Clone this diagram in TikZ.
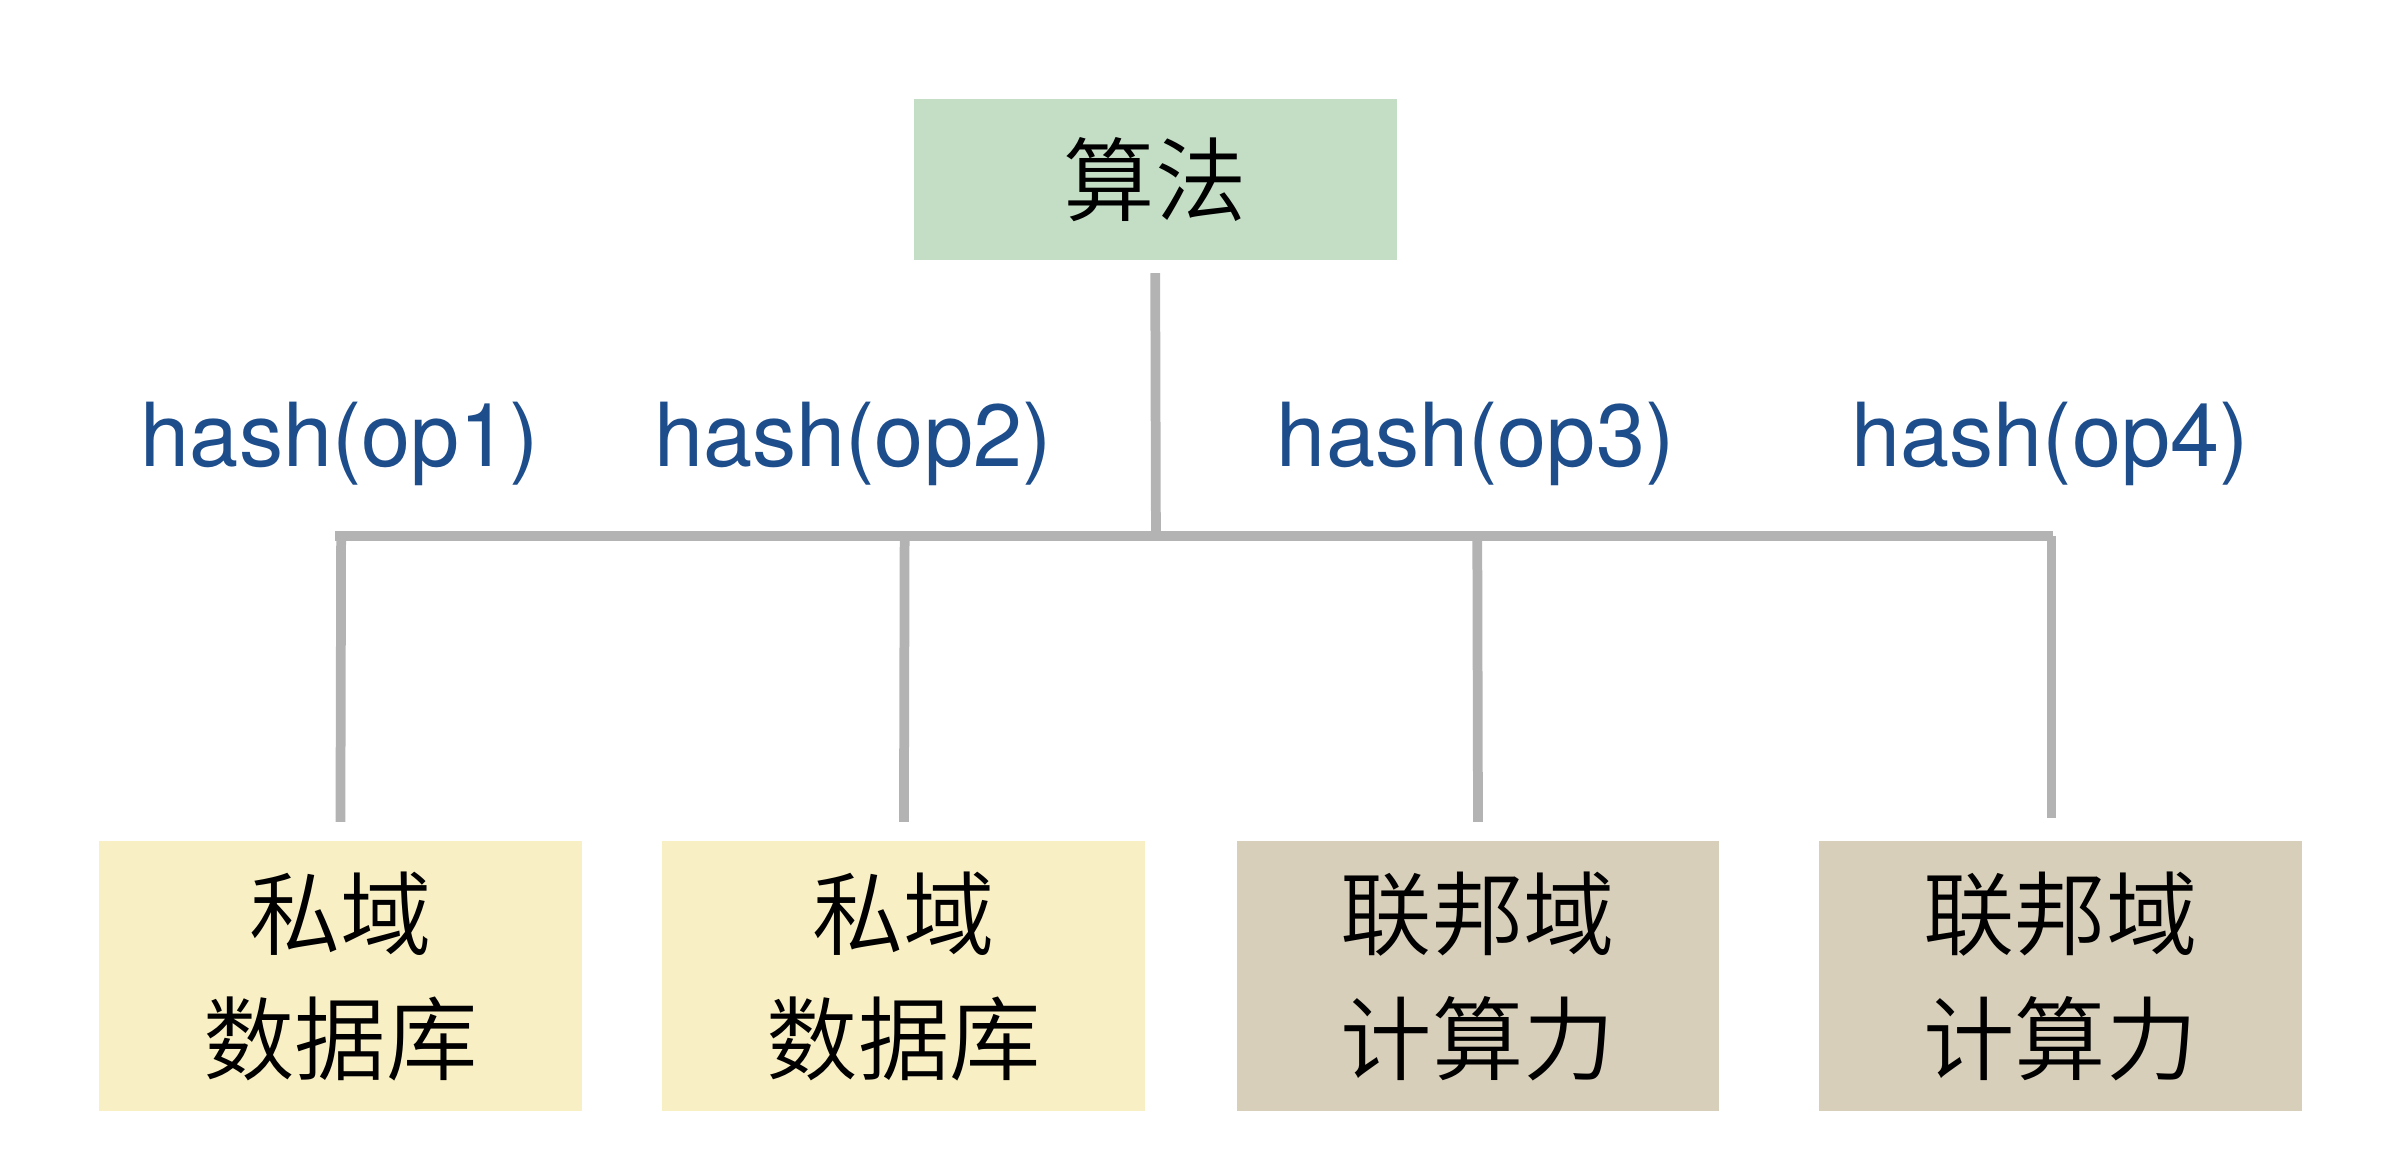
\documentclass[tikz,border=0pt]{standalone}
\usepackage{fontspec}
\setmainfont{TeX Gyre Heros}
\newfontfamily\cjk{Noto Sans CJK SC}[UprightFont={* DemiLight}]
\definecolor{topgreen}{HTML}{C4DEC6}
\definecolor{privyellow}{HTML}{F8EFC4}
\definecolor{fedtan}{HTML}{D8CFBA}
\definecolor{linegray}{HTML}{B3B3B3}
\definecolor{hashblue}{HTML}{1E4D8C}
\tikzset{
  box/.style={draw=none, minimum width=158.5pt, inner sep=0pt, align=center,
    font=\cjk\fontsize{30}{41}\selectfont, text=black},
  topbox/.style={box, fill=topgreen, minimum height=53pt},
  privbox/.style={box, fill=privyellow, minimum height=88.5pt},
  fedbox/.style={box, fill=fedtan, minimum height=88.5pt},
  conn/.style={draw=linegray, line width=3.2pt},
  hashlbl/.style={font=\fontsize{29}{34}\selectfont, text=hashblue, anchor=base, inner sep=0pt}
}
\begin{document}
\begin{tikzpicture}[x=0.5pt,y=-0.5pt]
\useasboundingbox (0,0) rectangle (1568,768);
\node[topbox] (top) at (758.5,118) {算法};
\node[privbox] (b1) at (223.5,641) {私域\\数据库};
\node[privbox] (b2) at (593.5,641) {私域\\数据库};
\node[fedbox] (b3) at (970.5,641) {联邦域\\计算力};
\node[fedbox] (b4) at (1353,641) {联邦域\\计算力};
\coordinate (busL) at (220,352);
\coordinate (busR) at (1348,352);
\coordinate (busM) at (759,352);
\coordinate (d1) at (224,352);
\coordinate (d2) at (594,352);
\coordinate (d3) at (970,352);
\coordinate (d4) at (1347,352);
\coordinate (e4) at (1347,537);
\draw[conn] (busL) -- (busR);
\draw[conn, shorten <=4pt] (top.south) -- (busM);
\draw[conn, shorten >=7pt] (d1) -- ([yshift=-0.75pt]b1.north);
\draw[conn, shorten >=7pt] (d2) -- ([yshift=-0.75pt]b2.north);
\draw[conn, shorten >=7pt] (d3) -- ([yshift=-0.75pt]b3.north);
\draw[conn] (d4) -- (e4);
\node[hashlbl] (h1) at (223,306) {hash(op1)};
\node[hashlbl] (h2) at (560,306) {hash(op2)};
\node[hashlbl] (h3) at (969,306) {hash(op3)};
\node[hashlbl] (h4) at (1346,306) {hash(op4)};
\end{tikzpicture}
\end{document}
